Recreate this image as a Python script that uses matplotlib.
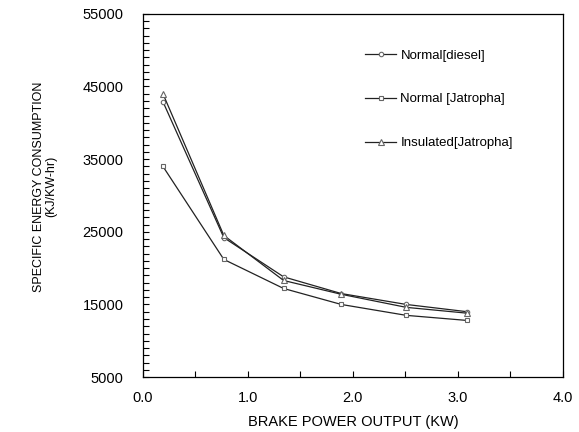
import matplotlib
matplotlib.use("Agg")
import matplotlib.pyplot as plt
from matplotlib.ticker import MultipleLocator, FormatStrFormatter

plt.rcParams['font.family'] = ['Liberation Sans', 'DejaVu Sans']

# brake power output (KW)
power = [0.19, 0.77, 1.34, 1.89, 2.51, 3.09]
diesel = [42900, 24200, 18800, 16500, 15000, 14000]
jatropha = [34000, 21200, 17200, 15000, 13500, 12800]
insulated = [44000, 24500, 18300, 16400, 14600, 13800]

series_labels = ["Normal[diesel]", "Normal [Jatropha]", "Insulated[Jatropha]"]
yticks = [5000, 15000, 25000, 35000, 45000, 55000]

fig = plt.figure(figsize=(5.79, 4.32), dpi=100)
ax = fig.add_axes([0.247, 0.127, 0.725, 0.841])

ax.plot(power, diesel, color='#222222', lw=0.9, marker='o', ms=3.2,
        mfc='white', mec='#666666', mew=0.8, label=series_labels[0])
ax.plot(power, jatropha, color='#222222', lw=0.9, marker='s', ms=3.2,
        mfc='white', mec='#666666', mew=0.8, label=series_labels[1])
ax.plot(power, insulated, color='#222222', lw=0.9, marker='^', ms=3.8,
        mfc='white', mec='#666666', mew=0.8, label=series_labels[2])

ax.set_xlim(0, 4.0)
ax.set_ylim(5000, 55000)
ax.xaxis.set_major_locator(MultipleLocator(1.0))
ax.xaxis.set_minor_locator(MultipleLocator(0.5))
ax.yaxis.set_major_locator(plt.FixedLocator(yticks))
ax.yaxis.set_minor_locator(MultipleLocator(1000))
ax.xaxis.set_major_formatter(FormatStrFormatter('%.1f'))

ax.tick_params(axis='both', which='both', direction='in', labelsize=10.5)
ax.tick_params(axis='both', which='both', length=4, width=0.8)
ax.tick_params(axis='y', pad=14)
ax.tick_params(axis='x', pad=10)
for s in ax.spines.values():
    s.set_linewidth(0.9)

ax.set_xlabel("BRAKE POWER OUTPUT (KW)", fontsize=10.5, labelpad=7)
ax.set_ylabel("SPECIFIC ENERGY CONSUMPTION\n(KJ/KW-hr)", fontsize=9, linespacing=1.0)
ax.yaxis.set_label_coords(-0.205, 0.525)

leg = ax.legend(loc='upper left', bbox_to_anchor=(0.5, 0.935), frameon=False,
                fontsize=9.5, handlelength=2.4, handletextpad=0.3, labelspacing=2.4)

fig.savefig("out.png", dpi=100)
